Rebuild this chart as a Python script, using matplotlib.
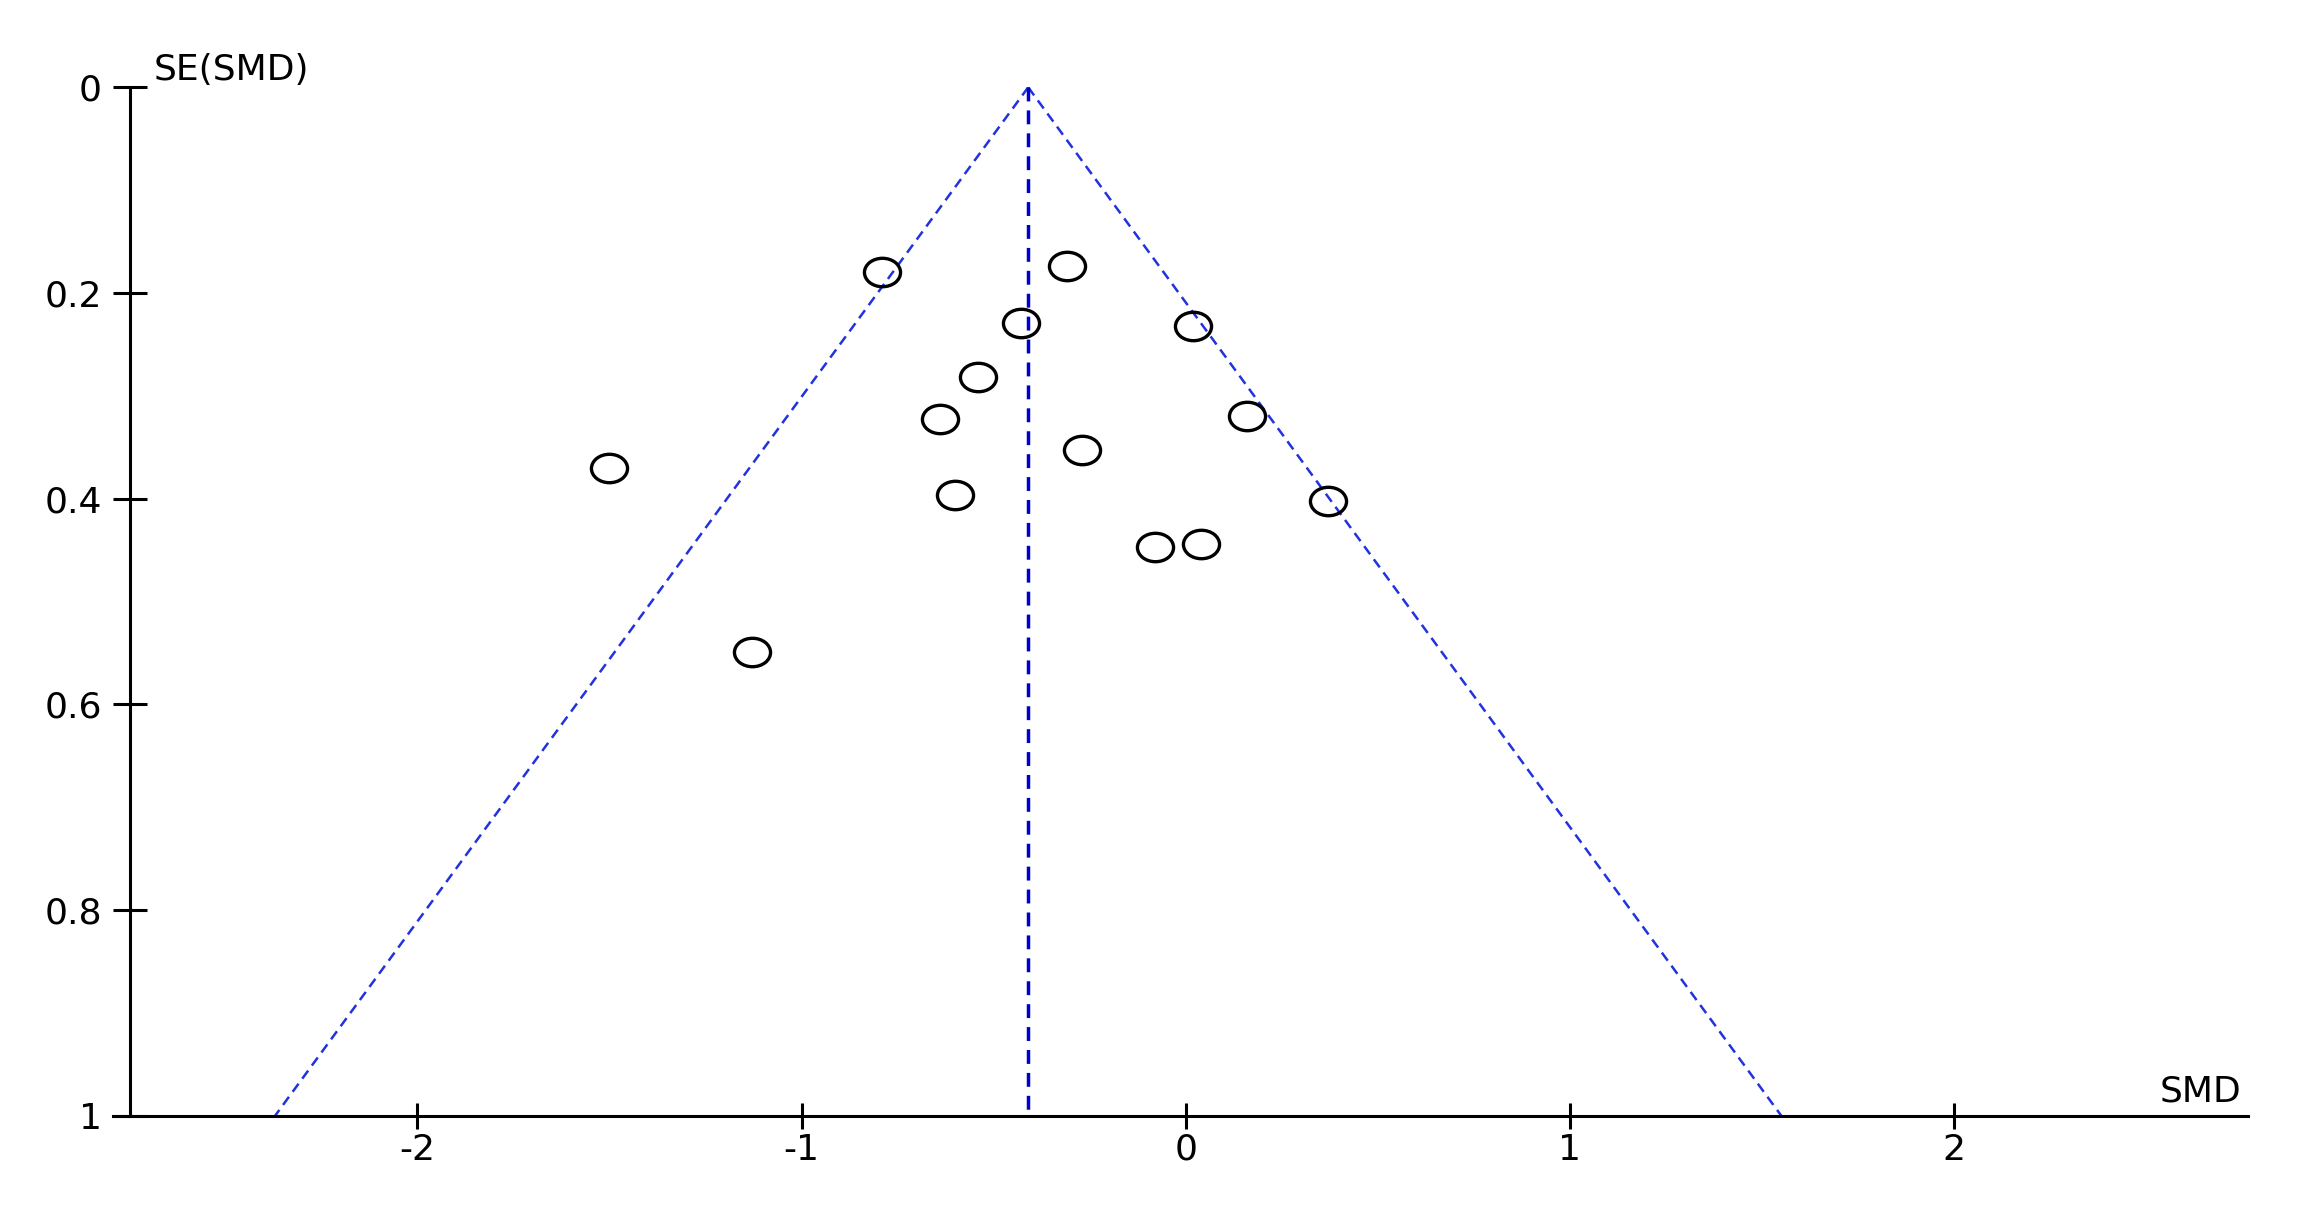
import numpy as np
import matplotlib
matplotlib.use("Agg")
import matplotlib.pyplot as plt
from matplotlib.path import Path
from matplotlib.transforms import Affine2D

# study effects (SMD) and their standard errors
smd = [-0.79, -0.31, -0.43, 0.02, -0.54, -0.64, 0.16, -1.50, -0.27, -0.60, 0.37, -0.08, 0.04, -1.13]
se = [0.180, 0.174, 0.229, 0.232, 0.282, 0.323, 0.320, 0.370, 0.353, 0.396, 0.402, 0.447, 0.444, 0.549]

pooled = -0.41
funnel_se = [0, 1]
funnel_left = [-0.41, -2.37]
funnel_right = [-0.41, 1.55]

xticks = [-2, -1, 0, 1, 2]
xlabels = ["-2", "-1", "0", "1", "2"]
yticks = [0, 0.2, 0.4, 0.6, 0.8, 1]
ylabels = ["0", "0.2", "0.4", "0.6", "0.8", "1"]

plt.rcParams['font.family'] = 'DejaVu Sans'

W, H = 2302, 1227
fig = plt.figure(figsize=(W / 100, H / 100), dpi=100)
ax = fig.add_axes([113 / W, 1 - 1115.7 / H, (2247.7 - 113) / W, (1115.7 - 87.3) / H])
ax.set_xlim(-2.792, 2.764)
ax.set_ylim(1, 0)

ax.plot(funnel_left, funnel_se, color="#2233dd", lw=1.8, ls=(0, (4, 2.5)))
ax.plot(funnel_right, funnel_se, color="#2233dd", lw=1.8, ls=(0, (4, 2.5)))
ax.plot([pooled, pooled], funnel_se, color="#0000cc", lw=2.5, ls=(0, (4, 2.6)))

# the original markers are slightly wider than tall
ellipse = Path.unit_circle().transformed(Affine2D().scale(1.27, 1))
ax.plot(smd, se, ls="none", marker=ellipse, ms=26, mfc="none", mec="black", mew=2.4)

for s in ["top", "right"]:
    ax.spines[s].set_visible(False)
ax.spines["left"].set_position(("data", -2.749))
ax.spines["left"].set_linewidth(2.2)
ax.spines["bottom"].set_linewidth(2.2)

ax.set_xticks(xticks)
ax.set_xticklabels(xlabels)
ax.set_yticks(yticks)
ax.set_yticklabels(ylabels)
ax.tick_params(axis="y", direction="inout", length=23.8, width=2.2, labelsize=26, pad=8)
ax.tick_params(axis="x", direction="inout", length=18.4, width=2.2, labelsize=26, pad=3)

fig.text(154 / W, 1 - 80 / H, "SE(SMD)", ha="left", va="baseline", fontsize=26)
fig.text(2241 / W, 1 - 1102 / H, "SMD", ha="right", va="baseline", fontsize=26)

fig.savefig("out.png", dpi=100)
